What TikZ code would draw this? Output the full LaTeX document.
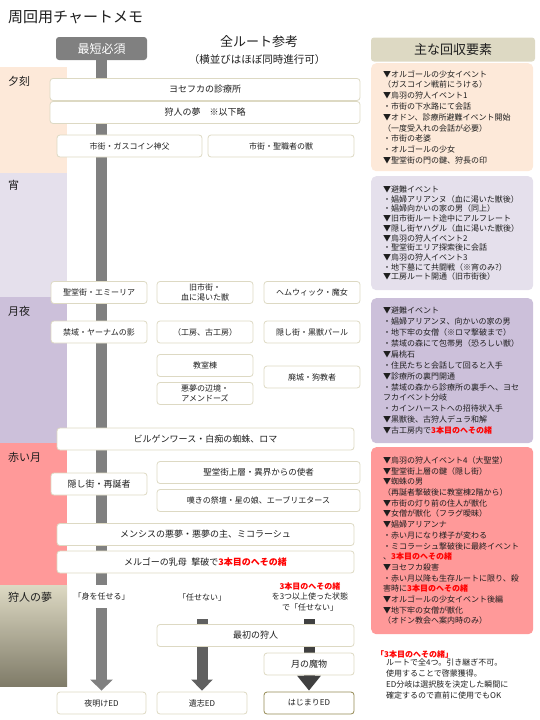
\documentclass[tikz,border=0pt]{standalone}
\usepackage{fontspec}
\setmainfont{Noto Sans CJK JP}
\usetikzlibrary{arrows.meta,positioning,backgrounds}
\definecolor{ink}{RGB}{30,30,30}
\definecolor{dusk}{RGB}{253,233,217}
\definecolor{eve}{RGB}{229,224,236}
\definecolor{moon}{RGB}{204,192,218}
\definecolor{blood}{RGB}{255,153,153}
\definecolor{dreamtop}{RGB}{221,217,195}
\definecolor{dreambot}{RGB}{127,123,104}
\definecolor{rim}{RGB}{221,217,195}
\definecolor{rimdark}{RGB}{148,138,84}
\definecolor{railA}{RGB}{128,128,128}
\definecolor{railB}{RGB}{96,96,96}
\definecolor{railC}{RGB}{64,64,64}
\definecolor{cord}{RGB}{255,0,0}
\newcommand{\himo}[1]{\textcolor{cord}{\bfseries #1}}
\newcommand{\fs}[2]{\fontsize{#1}{#2}\selectfont}
\tikzset{
  route/.style={draw=rim,line width=0.8pt,fill=white,rounded corners=3pt,inner sep=1pt,
    align=center,font=\fs{8}{10},text=ink,minimum height=22pt},
  memo/.style={rounded corners=5pt,anchor=north west,minimum width=162pt,text width=138pt,
    inner xsep=12pt,inner ysep=0pt,align=left,font=\fs{8}{10.8},text=ink},
  band/.style={anchor=north west,minimum width=67pt,inner sep=0pt},
  tag/.style={anchor=west,font=\fs{11}{13},inner sep=0pt,text=ink},
  rail/.style={line width=11pt},
  bigtip/.style={-{Triangle[length=11pt,width=22pt]}},
  choice/.style={font=\fs{8}{10.5},align=center,inner sep=0pt,text=ink},
}
\begin{document}
\begin{tikzpicture}[x=1pt,y=-1pt]
\useasboundingbox (0,0) rectangle (540,720);
% headings
\node[anchor=west,font=\fs{15}{17},inner sep=0pt,text=ink] (title) at (8,17) {周回用チャートメモ};
\node[fill=railA,rounded corners=3pt,minimum width=91pt,minimum height=23pt,inner sep=0pt,
  text=white,font=\fs{12}{14}] (hdrshort) at (101.5,48.5) {最短必須};
\node[font=\fs{13}{15},inner sep=0pt,text=ink] (hdrall) at (259,42) {全ルート参考};
\node[font=\fs{10.5}{12},inner sep=0pt,text=ink] (hdrnote) at (257,60) {（横並びはほぼ同時進行可）};
\node[fill=dreamtop,rounded corners=3pt,minimum width=164pt,minimum height=24pt,inner sep=0pt,
  font=\fs{13}{15},text=ink] (hdrmemo) at (453,49.5) {主な回収要素};
% time bands
\node[band,fill=dusk,minimum height=106pt] (bdusk) at (0,67) {};
\node[band,fill=eve,minimum height=124pt] (beve) at (0,173) {};
\node[band,fill=moon,minimum height=146pt] (bmoon) at (0,297) {};
\node[band,fill=blood,minimum height=142pt] (bblood) at (0,443) {};
\node[band,top color=dreamtop,bottom color=dreambot,minimum height=101pt] (bdream) at (0,585) {};
\node[tag] (tdusk) at (8,81) {夕刻};
\node[tag] (teve) at (8,185) {宵};
\node[tag] (tmoon) at (8,311) {月夜};
\node[tag] (tblood) at (8,457) {赤い月};
\node[tag] (tdream) at (8,597) {狩人の夢};
% dusk
\node[route,minimum width=310pt,font=\fs{9}{11}] (yosefka) at (205,89.5) {ヨセフカの診療所};
\node[route,minimum width=310pt,font=\fs{9}{11}] (hub) at (205,112.5) {狩人の夢\quad ※以下略};
\node[route,minimum width=145pt] (gascoigne) at (129.5,146) {市街・ガスコイン神父};
\node[route,minimum width=146pt] (cleric) at (281,146) {市街・聖職者の獣};
% moon night
\node[route,minimum width=96pt] (emilia) at (99,292.5) {聖堂街・エミーリア};
\node[route,minimum width=96pt] (oldyh) at (205,292.5) {旧市街・\\血に渇いた獣};
\node[route,minimum width=96pt] (hemwick) at (312,292.5) {ヘムウィック・魔女};
\node[route,minimum width=96pt] (shadow) at (99,332) {禁域・ヤーナムの影};
\node[route,minimum width=96pt] (workshop) at (205,332) {（工房、古工房）};
\node[route,minimum width=96pt] (paarl) at (312,332) {隠し街・黒獣パール};
\node[route,minimum width=96pt] (lecture) at (205,365.5) {教室棟};
\node[route,minimum width=96pt] (amygdala) at (205,393.5) {悪夢の辺境・\\アメンドーズ};
\node[route,minimum width=96pt] (martyr) at (312,377) {廃城・狗教者};
\node[route,minimum width=297pt,font=\fs{9}{11}] (byrgen) at (205.5,439) {ビルゲンワース・白痴の蜘蛛、ロマ};
% blood moon
\node[route,minimum width=203pt,font=\fs{8.5}{10}] (upper) at (258.5,472.5) {聖堂街上層・異界からの使者};
\node[route,minimum width=96pt,font=\fs{9}{11}] (reborn) at (99,484) {隠し街・再誕者};
\node[route,minimum width=203pt] (altar) at (258.5,500.5) {嘆きの祭壇・星の娘、エーブリエタース};
\node[route,minimum width=297pt,font=\fs{9}{11}] (mensis) at (205.5,534.5) {メンシスの悪夢・悪夢の主、ミコラーシュ};
\node[route,minimum width=297pt,font=\fs{9}{11}] (mergo) at (205.5,562) {メルゴーの乳母\enspace 撃破で\himo{3本目のへその緒}};
% hunter's dream
\node[choice,minimum height=23pt] (submit) at (101.5,596.5) {「身を任せる」};
\node[choice] (refuse) at (202,597) {「任せない」};
\node[choice] (refuse3) at (310,596.5) {\himo{3本目のへその緒}\\を3つ以上使った状態\\で「任せない」};
\coordinate (legacytop) at (202,619);
\coordinate (childtop) at (309,619);
\node[route,minimum width=197pt,font=\fs{9}{11}] (first) at (255.5,635.5) {最初の狩人};
\node[route,minimum width=90pt,font=\fs{9}{11}] (presence) at (309,664) {月の魔物};
\node[route,minimum width=89pt] (dawn) at (101.5,703) {夜明けED};
\node[route,minimum width=90pt] (legacy) at (202,703) {遺志ED};
\node[route,minimum width=90pt,draw=rimdark] (childhood) at (309,703) {はじまりED};
% rails
\begin{scope}[on background layer]
\draw[rail,railA] (hdrshort.south) -- (submit.north);
\draw[rail,railA,bigtip,shorten >=1pt] (submit.south) -- (dawn.north);
\draw[rail,railB,-{Triangle[length=11pt,width=21pt]},shorten >=1pt] (legacytop) -- (legacy.north);
\draw[rail,railC,-{Triangle[length=15pt,width=23pt]},shorten >=1pt] (childtop) -- (childhood.north);
\end{scope}
% collection notes
\node[memo,fill=dusk,minimum height=108pt] (mdusk) at (371,63) {▼オルゴールの少女イベント\\（ガスコイン戦前にうける）\\▼烏羽の狩人イベント1\\・市街の下水路にて会話\\▼オドン、診療所避難イベント開始\\（一度受入れの会話が必要）\\・市街の老婆\\・オルゴールの少女\\▼聖堂街の門の鍵、狩長の印};
\node[memo,fill=eve,minimum height=114pt,font=\fs{8}{9.7}] (meve) at (371,176) {▼避難イベント\\・娼婦アリアンヌ（血に渇いた獣後）\\・娼婦向かいの家の男（同上）\\▼旧市街ルート途中にアルフレート\\▼隠し街ヤハグル（血に渇いた獣後）\\▼烏羽の狩人イベント2\\・聖堂街エリア探索後に会話\\▼烏羽の狩人イベント3\\・地下墓にて共闘戦（※宵のみ?）\\▼工房ルート開通（旧市街後）};
\node[memo,fill=moon,minimum height=145pt,font=\fs{8}{10.9}] (mmoon) at (371,298) {▼避難イベント\\・娼婦アリアンヌ、向かいの家の男\\・地下牢の女僧（※ロマ撃破まで）\\・禁域の森にて包帯男（恐ろしい獣）\\▼扁桃石\\・住民たちと会話して回ると入手\\▼診療所の裏門開通\\・禁域の森から診療所の裏手へ、ヨセ\\フカイベント分岐\\・カインハーストへの招待状入手\\▼黒獣後、古狩人デュラ和解\\▼古工房内で\himo{3本目のへその緒}};
\node[memo,fill=blood,minimum height=187pt,font=\fs{8}{10.7}] (mblood) at (371,447) {▼烏羽の狩人イベント4（大聖堂）\\▼聖堂街上層の鍵（隠し街）\\▼蜘蛛の男\\（再誕者撃破後に教室棟2階から）\\▼市街の灯り前の住人が獣化\\▼女僧が獣化（フラグ曖昧）\\▼娼婦アリアンナ\\・赤い月になり様子が変わる\\・ミコラーシュ撃破後に最終イベント\\、\himo{3本目のへその緒}\\▼ヨセフカ殺害\\・赤い月以降も生存ルートに限り、殺\\害時に\himo{3本目のへその緒}\\▼オルゴールの少女イベント後編\\▼地下牢の女僧が獣化\\（オドン教会へ案内時のみ）};
\node[anchor=west,inner sep=0pt,font=\fs{8}{10}] (notehead) at (376,654) {\himo{「3本目のへその緒」}};
\node[anchor=north west,inner sep=0pt,align=left,font=\fs{8}{10.7},text=ink] (notebody) at (386,659) {ルートで全4つ。引き継ぎ不可。\\使用することで啓蒙獲得。\\ED分岐は選択肢を決定した瞬間に\\確定するので直前に使用でもOK};
\end{tikzpicture}
\end{document}
